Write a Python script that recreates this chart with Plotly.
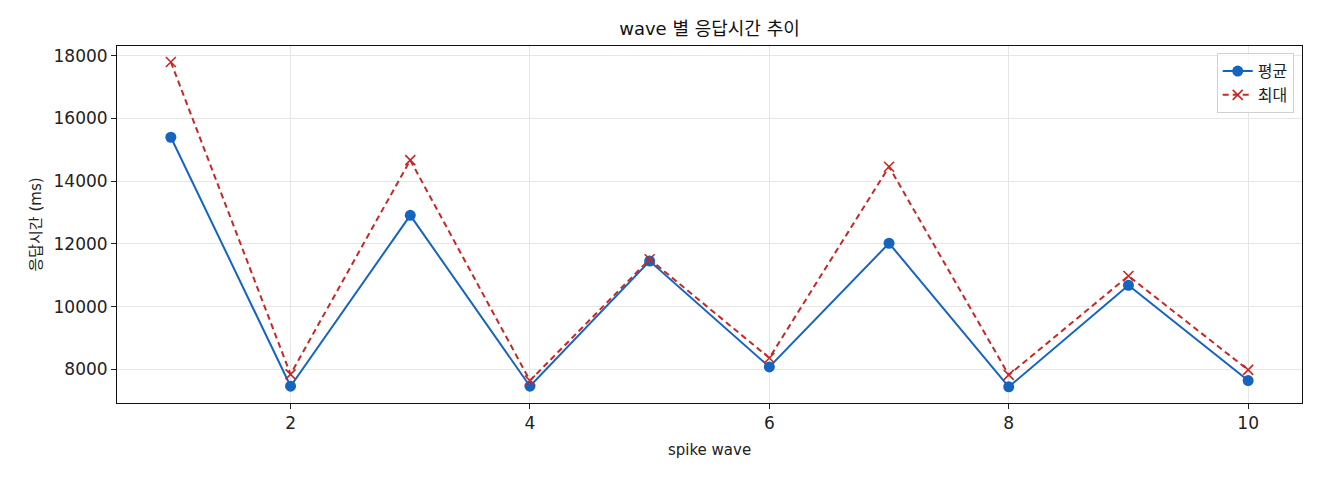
import plotly.graph_objects as go

# spike wave 별 응답시간 (ms)
waves = [1, 2, 3, 4, 5, 6, 7, 8, 9, 10]
avg_ms = [15400, 7460, 12910, 7460, 11450, 8075, 12020, 7440, 10680, 7640]
max_ms = [17800, 7840, 14670, 7640, 11510, 8360, 14460, 7820, 10975, 7980]

FONT = "DejaVu Sans, Noto Sans CJK KR, sans-serif"

fig = go.Figure()

fig.add_trace(go.Scatter(
    x=waves,
    y=avg_ms,
    mode='lines+markers',
    name='평균',
    line=dict(color='#1565C0', width=2),
    marker=dict(symbol='circle', size=11, color='#1565C0')
))

fig.add_trace(go.Scatter(
    x=waves,
    y=max_ms,
    mode='lines+markers',
    name='최대',
    line=dict(color='#C62828', width=2, dash='6px,4px'),
    marker=dict(symbol='x-thin', size=10, line=dict(color='#C62828', width=1.6))
))

# page is drawn with an 8px body offset, so margins are shifted to compensate
fig.update_layout(
    width=1312,
    height=472,
    paper_bgcolor='white',
    plot_bgcolor='white',
    font=dict(family=FONT, size=15, color='#222'),
    margin=dict(l=109, r=18, t=38, b=77),
    title=dict(text='wave 별 응답시간 추이', x=0.5, xref='paper', xanchor='center',
               y=21 / 472, yref='container', yanchor='middle',
               font=dict(size=18, color='#111')),
    legend=dict(
        x=0.993, y=0.98, xanchor='right', yanchor='top',
        bgcolor='rgba(255,255,255,0.8)', bordercolor='#d0d0d0', borderwidth=1,
        font=dict(size=16)
    ),
    showlegend=True
)
fig.layout.title.y = 1 - 21 / 472

fig.update_xaxes(
    range=[0.55, 10.45],
    tickvals=[2, 4, 6, 8, 10],
    tickfont=dict(size=17),
    ticks='outside', ticklen=5, tickcolor='#222',
    showline=True, linecolor='#111', linewidth=1, mirror=True,
    showgrid=True, gridcolor='#e6e6e6', gridwidth=1,
    zeroline=False,
    title=dict(text='spike wave', font=dict(size=15), standoff=12)
)

fig.update_yaxes(
    range=[6925, 18310],
    tickvals=[8000, 10000, 12000, 14000, 16000, 18000],
    tickformat='d',
    tickfont=dict(size=17),
    ticks='outside', ticklen=5, tickcolor='#222',
    showline=True, linecolor='#111', linewidth=1, mirror=True,
    showgrid=True, gridcolor='#e6e6e6', gridwidth=1,
    zeroline=False,
    title=dict(text='응답시간 (ms)', font=dict(size=15), standoff=8)
)

fig.write_html("out.html")
